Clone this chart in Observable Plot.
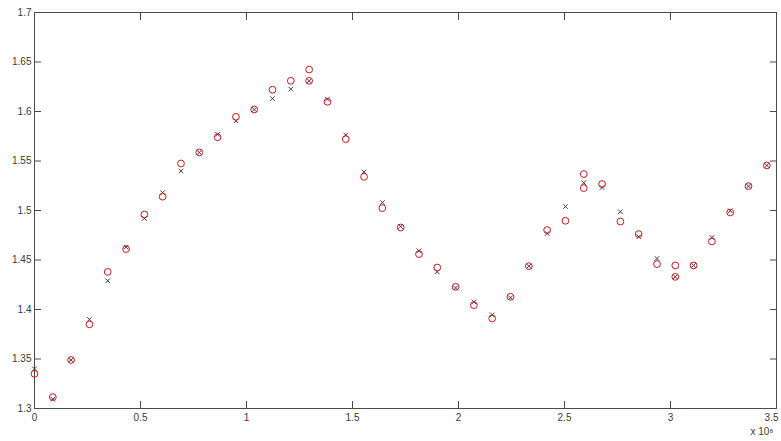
<!DOCTYPE html>
<html>
<head>
<meta charset="utf-8">
<script src="https://cdn.jsdelivr.net/npm/d3@7"></script>
<script src="https://cdn.jsdelivr.net/npm/@observablehq/plot@0.6"></script>
<style>
  body { margin: 0; background: #fff; }
  #chart svg { display: block; }
</style>
</head>
<body>
<div id="chart"></div>
<script>
// Sample positions (in units of 10^8)
const xValues = [
  0, 0.0864, 0.1727, 0.2591, 0.3454, 0.4318, 0.5182, 0.6045, 0.6909, 0.7772,
  0.8636, 0.9500, 1.0363, 1.1227, 1.2090, 1.2954, 1.3818, 1.4681, 1.5545, 1.6408,
  1.7272, 1.8136, 1.8999, 1.9863, 2.0726, 2.1590, 2.2454, 2.3317, 2.4181, 2.5044,
  2.5908, 2.6772, 2.7635, 2.8499, 2.9362, 3.0226, 3.1090, 3.1953, 3.2817, 3.3680,
  3.4544
];

// Red circles
const circleY = [
  1.335, 1.3115, 1.349, 1.385, 1.438, 1.461, 1.496, 1.514, 1.5475, 1.5586,
  1.574, 1.5946, 1.602, 1.622, 1.631, 1.6424, 1.6098, 1.5721, 1.534, 1.5024,
  1.4828, 1.456, 1.4424, 1.4229, 1.4044, 1.391, 1.4128, 1.4438, 1.4802, 1.4896,
  1.5368, 1.5267, 1.4889, 1.4762, 1.4459, 1.4445, 1.4445, 1.4687, 1.498, 1.5246,
  1.5455
];

// Additional circles sharing an abscissa with another circle
const extraCircleX = [1.2954, 2.5908, 3.0226];
const extraCircleY = [1.631, 1.5226, 1.433];

// Dark crosses
const crossY = [
  1.340, 1.3095, 1.349, 1.390, 1.429, 1.463, 1.492, 1.518, 1.540, 1.5586,
  1.577, 1.5906, 1.602, 1.613, 1.6226, 1.631, 1.6125, 1.5762, 1.539, 1.508,
  1.4838, 1.4593, 1.438, 1.4218, 1.4078, 1.3946, 1.4118, 1.4438, 1.4768, 1.504,
  1.528, 1.5232, 1.4987, 1.4735, 1.4515, 1.433, 1.4445, 1.4727, 1.4997, 1.5246,
  1.5455
];

const xTicks = [0, 0.5, 1, 1.5, 2, 2.5, 3, 3.5];
const xTickLabels = ["0", "0.5", "1", "1.5", "2", "2.5", "3", "3.5"];
const yTicks = [1.3, 1.35, 1.4, 1.45, 1.5, 1.55, 1.6, 1.65, 1.7];
const yTickLabels = ["1.3", "1.35", "1.4", "1.45", "1.5", "1.55", "1.6", "1.65", "1.7"];
const exponentLabel = "x 10\u2078";

const circles = xValues.map((x, i) => ({x, y: circleY[i]}))
  .concat(extraCircleX.map((x, i) => ({x, y: extraCircleY[i]})));
const crosses = xValues.map((x, i) => ({x, y: crossY[i]}));

const axisColor = "#4a4a4a";
const textColor = "#3a3a3a";
const xFmt = d => xTickLabels[xTicks.indexOf(d)];
const yFmt = d => yTickLabels[yTicks.indexOf(d)];
const lastTick = xTicks[xTicks.length - 1];

const chart = Plot.plot({
  width: 781,
  height: 441,
  marginLeft: 34,
  marginRight: 5,
  marginTop: 12,
  marginBottom: 33,
  style: {fontFamily: "'Liberation Sans', Arial, sans-serif", fontSize: "10px", background: "#fff", color: textColor},
  x: {domain: [0, 3.5]},
  y: {domain: [1.3, 1.7]},
  marks: [
    Plot.frame({stroke: axisColor, strokeWidth: 1}),
    // inward ticks on all four sides, labels on bottom and left only
    Plot.axisX(xTicks, {anchor: "bottom", tickSize: -7, tickFormat: () => "", label: null, stroke: axisColor}),
    Plot.axisX(xTicks.filter(t => t !== lastTick), {anchor: "bottom", tickSize: 0, tickPadding: 5, tickFormat: xFmt, label: null, fill: textColor}),
    // last label nudged left so it stays inside the figure
    Plot.text([lastTick], {x: d => d, text: xFmt, frameAnchor: "bottom", lineAnchor: "top", dy: 5, dx: -5, textAnchor: "middle", fill: textColor, fontSize: 10}),
    Plot.axisX(xTicks, {anchor: "top", tickSize: -7, tickFormat: () => "", label: null, stroke: axisColor}),
    Plot.axisY(yTicks, {anchor: "left", tickSize: -7, tickPadding: 10, tickFormat: yFmt, label: null, stroke: axisColor, fill: textColor}),
    Plot.axisY(yTicks, {anchor: "right", tickSize: -7, tickFormat: () => "", label: null, stroke: axisColor}),
    Plot.dot(crosses, {x: "x", y: "y", symbol: "times", r: 2.2, stroke: "#3c3c4a", strokeWidth: 1}),
    Plot.dot(circles, {x: "x", y: "y", symbol: "circle", r: 3.4, stroke: "#c81818", strokeWidth: 1, fill: "none"}),
    Plot.text([exponentLabel], {frameAnchor: "bottom-right", text: d => d, dy: 26, dx: -3, textAnchor: "end", fill: textColor, fontSize: 10})
  ]
});

document.getElementById("chart").appendChild(chart);
</script>
</body>
</html>
